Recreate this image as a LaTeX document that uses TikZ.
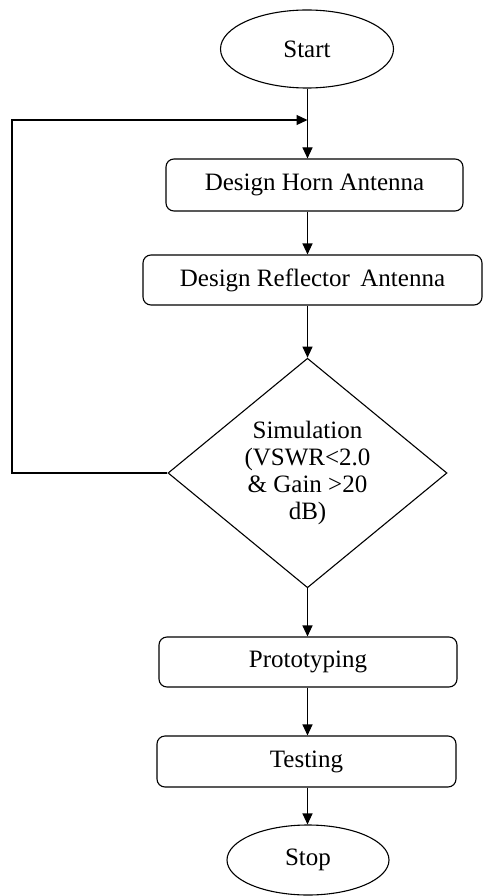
\documentclass[tikz,border=0pt]{standalone}
\usepackage{fontspec}
\setmainfont{Liberation Serif}
\usetikzlibrary{shapes.geometric,arrows.meta}
\begin{document}
\begin{tikzpicture}[x=1pt,y=-1pt,
  every node/.style={font=\fontsize{25}{27}\selectfont},
  term/.style={draw,line width=1.1pt,ellipse,inner sep=0pt},
  procbox/.style={draw,line width=1.1pt,rounded corners=8pt,inner sep=0pt},
  decis/.style={draw,line width=1.1pt,diamond,inner sep=0pt,align=center},
  arr/.style={line width=1.1pt,-{Triangle[length=11pt,width=10pt]}},
  ln/.style={line width=1.1pt}]
\useasboundingbox (0,0) rectangle (486,896);
\node[term,minimum width=173pt,minimum height=78pt] (start) at (307,49) {Start};
\node[procbox,minimum width=297pt,minimum height=52pt] (horn) at (314.5,185) {Design Horn Antenna};
\node[procbox,minimum width=339pt,minimum height=50pt] (refl) at (312.5,280) {Design Reflector\, Antenna};
\node[decis,minimum width=279pt,minimum height=227pt] (sim) at (307.5,473) {Simulation\\(VSWR<2.0\\\& Gain >20\\dB)};
\node[procbox,minimum width=298pt,minimum height=50pt] (proto) at (308,662) {Prototyping};
\node[procbox,minimum width=299pt,minimum height=51pt] (test) at (306.5,761.5) {Testing};
\node[term,minimum width=162pt,minimum height=70pt] (stop) at (308,860) {Stop};
\coordinate (axis) at (307.5,0);
\coordinate (join) at (307.5,120);
\coordinate (fl) at (12,473);
\coordinate (ft) at (12,120);
\draw[arr] (start.south -| axis) -- (horn.north -| axis);
\draw[arr] (horn.south -| axis) -- (refl.north -| axis);
\draw[arr] (refl.south -| axis) -- (sim.north);
\draw[arr] (sim.south) -- (proto.north -| axis);
\draw[arr] (proto.south -| axis) -- (test.north -| axis);
\draw[arr] (test.south -| axis) -- (stop.north -| axis);
\draw[arr] (sim.west) -- (fl) -- (ft) -- (join);
\end{tikzpicture}
\end{document}
